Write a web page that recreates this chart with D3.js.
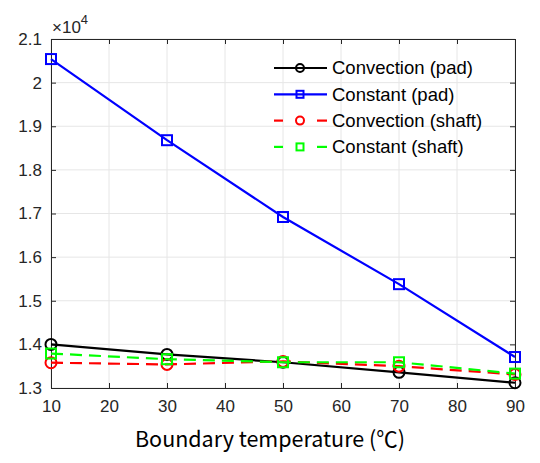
<!DOCTYPE html>
<html><head><meta charset="utf-8">
<script src="https://cdn.jsdelivr.net/npm/d3@7/dist/d3.min.js"></script>
<style>body{margin:0;background:#fff}svg{display:block}</style>
</head><body>
<svg id="c" width="540" height="463"></svg>
<script>
const temps = [10, 30, 50, 70, 90];
const convectionPad = [1.400, 1.377, 1.359, 1.336, 1.312];
const constantPad = [2.054, 1.868, 1.692, 1.538, 1.371];
const convectionShaft = [1.358, 1.354, 1.361, 1.350, 1.331];
const constantShaft = [1.379, 1.366, 1.359, 1.359, 1.333];
const xTicks = [10, 20, 30, 40, 50, 60, 70, 80, 90];
const yTicks = [1.3, 1.4, 1.5, 1.6, 1.7, 1.8, 1.9, 2.0, 2.1];
const seriesNames = ["Convection (pad)", "Constant (pad)", "Convection (shaft)", "Constant (shaft)"];

const series = [
  {name: seriesNames[0], vals: convectionPad, color: "#000000", dash: null, marker: "circle"},
  {name: seriesNames[1], vals: constantPad, color: "#0000ff", dash: null, marker: "square"},
  {name: seriesNames[2], vals: convectionShaft, color: "#ff0000", dash: "12,7", marker: "circle"},
  {name: seriesNames[3], vals: constantShaft, color: "#00ff00", dash: "12,7", marker: "square"}
];

const L = 51, R = 515, T = 39, B = 388;
const svg = d3.select("#c");
const x = d3.scaleLinear().domain([10, 90]).range([L, R]);
const y = d3.scaleLinear().domain([1.3, 2.1]).range([B, T]);
const font = "'Liberation Sans', Arial, sans-serif";

// grid
const g = svg.append("g");
g.selectAll(".gx").data(xTicks).enter().append("line")
  .attr("x1", d => x(d)).attr("x2", d => x(d)).attr("y1", T).attr("y2", B)
  .attr("stroke", "#e6e6e6").attr("stroke-width", 1);
g.selectAll(".gy").data(yTicks).enter().append("line")
  .attr("y1", d => y(d)).attr("y2", d => y(d)).attr("x1", L).attr("x2", R)
  .attr("stroke", "#e6e6e6").attr("stroke-width", 1);

// axes
const axCol = "#262626";
const xAxis = svg.append("g").attr("transform", `translate(0,${B})`)
  .call(d3.axisBottom(x).tickValues(xTicks).tickSize(-5).tickPadding(12).tickFormat(d3.format("d")));
const xTop = svg.append("g").attr("transform", `translate(0,${T})`)
  .call(d3.axisTop(x).tickValues(xTicks).tickSize(-5).tickFormat(""));
const yAxis = svg.append("g").attr("transform", `translate(${L},0)`)
  .call(d3.axisLeft(y).tickValues(yTicks).tickSize(-5).tickPadding(9).tickFormat(d => d3.format(".1f")(d).replace(/\.0$/, "")));
const yRight = svg.append("g").attr("transform", `translate(${R},0)`)
  .call(d3.axisRight(y).tickValues(yTicks).tickSize(-5).tickFormat(""));
[xAxis, xTop, yAxis, yRight].forEach(a => {
  a.select(".domain").attr("stroke", axCol).attr("stroke-width", 1);
  a.selectAll(".tick line").attr("stroke", axCol);
  a.selectAll("text").attr("fill", "#262626").style("font-family", font).style("font-size", "17px");
});
xAxis.selectAll("text").attr("dy", "0.71em");

// exponent label
const ex = svg.append("text").attr("x", 52).attr("y", 33).attr("fill", "#262626")
  .style("font-family", font).style("font-size", "17px");
ex.append("tspan").text("\u00d710");
ex.append("tspan").attr("dy", -9).style("font-size", "13px").text("4");

// x label
svg.append("text").attr("x", 270).attr("y", 447).attr("text-anchor", "middle")
  .attr("fill", "#000").style("font-family", "'Noto Sans CJK KR', 'Noto Sans', sans-serif")
  .style("font-size", "22px").attr("textLength", 270).attr("lengthAdjust", "spacingAndGlyphs")
  .text("Boundary temperature (\u2103)");

// lines
const line = d3.line().x((d, i) => x(temps[i])).y(d => y(d));
function drawMarker(sel, type, cx, cy, color) {
  if (type === "circle") {
    sel.append("circle").attr("cx", cx).attr("cy", cy).attr("r", 5.5)
      .attr("fill", "none").attr("stroke", color).attr("stroke-width", 2);
  } else {
    sel.append("rect").attr("x", cx - 5).attr("y", cy - 5).attr("width", 10).attr("height", 10)
      .attr("fill", "none").attr("stroke", color).attr("stroke-width", 2);
  }
}
series.forEach(s => {
  const gs = svg.append("g");
  gs.append("path").attr("d", line(s.vals)).attr("fill", "none")
    .attr("stroke", s.color).attr("stroke-width", 2.2)
    .attr("stroke-dasharray", s.dash);
  s.vals.forEach((v, i) => drawMarker(gs, s.marker, x(temps[i]), y(v), s.color));
});

// legend
const lg = svg.append("g");
series.forEach((s, i) => {
  const yy = 68 + i * 26.3;
  if (s.dash) {
    lg.append("line").attr("x1", 274).attr("x2", 283).attr("y1", yy).attr("y2", yy)
      .attr("stroke", s.color).attr("stroke-width", 2.2);
    lg.append("line").attr("x1", 317).attr("x2", 327).attr("y1", yy).attr("y2", yy)
      .attr("stroke", s.color).attr("stroke-width", 2.2);
  } else {
    lg.append("line").attr("x1", 274).attr("x2", 327).attr("y1", yy).attr("y2", yy)
      .attr("stroke", s.color).attr("stroke-width", 2.2);
  }
  if (s.marker === "circle") {
    lg.append("circle").attr("cx", 300).attr("cy", yy).attr("r", 4)
      .attr("fill", "none").attr("stroke", s.color).attr("stroke-width", 2);
  } else {
    lg.append("rect").attr("x", 296.5).attr("y", yy - 3.5).attr("width", 7).attr("height", 7)
      .attr("fill", "none").attr("stroke", s.color).attr("stroke-width", 2);
  }
  lg.append("text").attr("x", 332).attr("y", yy).attr("dy", "0.35em")
    .attr("fill", "#000").style("font-family", font).style("font-size", "18.5px").text(s.name);
});
</script>
</body></html>
